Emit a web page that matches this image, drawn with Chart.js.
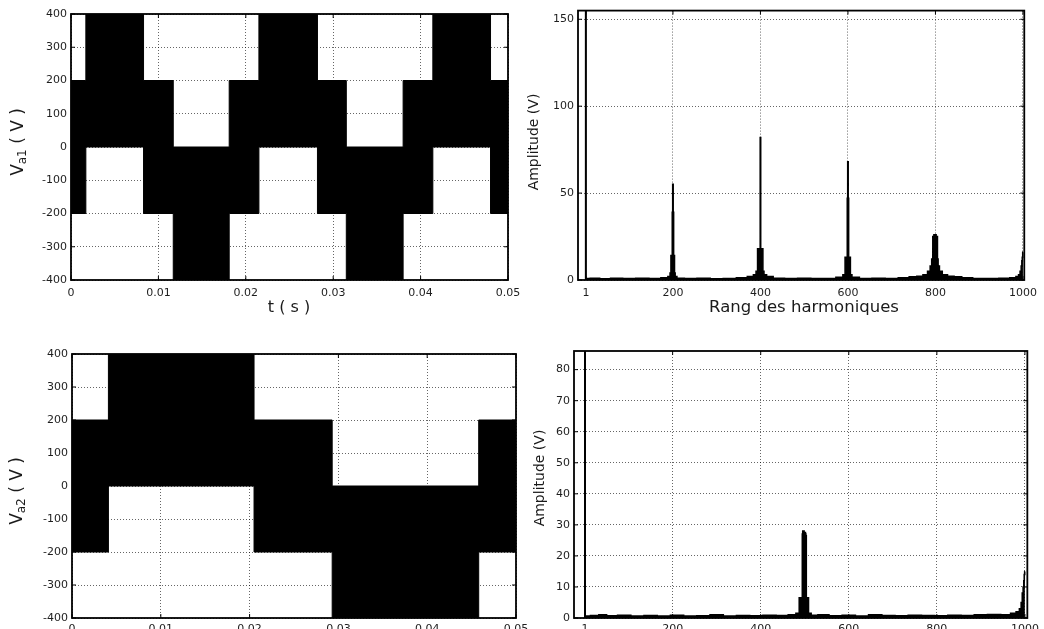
<!DOCTYPE html>
<html>
<head>
<meta charset="utf-8">
<script src="https://cdn.jsdelivr.net/npm/chart.js@4/dist/chart.umd.min.js"></script>
<style>
  html, body { margin: 0; padding: 0; background: #fff; overflow: hidden; }
  #page { position: relative; width: 1044px; height: 629px; overflow: hidden; background: #fff; }
  #sheet { position: absolute; left: 0; top: 0; transform-origin: 0 0; }
  canvas { position: absolute; }
</style>
</head>
<body>
<div id="page"><div id="sheet"></div></div>
<script>
// ---- Va1 : multilevel PWM, each band starts at a time (s) and spans lower..upper (V)
const va1Times = [0, 0.0017, 0.0083, 0.0117, 0.0181, 0.0215, 0.0282, 0.0315, 0.0380, 0.0414, 0.0480, 0.0500];
const va1Upper = [200, 400, 200, 0, 200, 400, 200, 0, 200, 400, 200, 200];
const va1Lower = [-200, 0, -200, -400, -200, 0, -200, -400, -200, 0, -200, -200];

// ---- Va2 : same inverter, lower switching
const va2Times = [0, 0.0041, 0.0205, 0.0293, 0.0458, 0.0500];
const va2Upper = [200, 400, 200, 0, 200, 200];
const va2Lower = [-200, 0, -200, -400, -200, -200];

// ---- harmonic spectrum of Va1 (order, amplitude in V)
const h1Order = [0, 1, 2, 20, 45, 70, 100, 130, 160, 185, 192, 195, 196, 197, 198, 199, 200, 201, 202, 203, 204, 206, 212,
  240, 270, 300, 330, 360, 380, 388, 392, 395, 396, 397, 398, 399, 400, 401, 402, 403, 404, 405, 406, 410, 418,
  440, 470, 500, 530, 560, 585, 592, 595, 596, 597, 598, 599, 600, 601, 602, 603, 604, 605, 606, 612,
  640, 670, 700, 730, 750, 765, 778, 786, 790, 793, 795, 796, 797, 798, 799, 800, 801, 802, 803, 804, 805, 807, 811, 820, 835, 850, 870,
  900, 930, 960, 980, 988, 992, 995, 997, 998, 999, 1000];
const h1Amp = [0, 310, 0.8, 1.0, 0.7, 1.0, 0.8, 1.0, 0.8, 1.2, 2, 4, 14, 14, 14, 39, 55, 39, 14, 14, 4, 2, 1,
  0.8, 1.0, 0.7, 0.9, 1.2, 2, 3, 5, 18, 18, 18, 18, 18, 82, 18, 18, 18, 18, 18, 5, 3, 2,
  1.0, 0.8, 1.0, 0.8, 0.9, 1.5, 3, 13, 13, 13, 13, 47, 68, 47, 13, 13, 13, 13, 3, 1.5,
  0.8, 1.0, 0.9, 1.2, 1.8, 2.2, 3, 5, 8, 12, 25, 25, 26, 25, 26, 25, 26, 25, 25, 25, 12, 8, 5, 3, 2.2, 1.8, 1.2,
  0.9, 0.8, 1.0, 1.2, 2, 3, 5, 8, 11, 13, 16];

// ---- harmonic spectrum of Va2 (order, amplitude in V)
const h2Order = [0, 1, 2, 25, 40, 60, 90, 120, 150, 180, 210, 240, 270, 300, 330, 360, 390, 420, 450, 475, 485, 490, 492, 494,
  495, 496, 497, 498, 499, 500, 501, 502, 503, 504, 506, 508, 509, 520, 540, 570, 600, 630, 660, 690, 720, 750,
  780, 810, 840, 870, 900, 930, 960, 975, 985, 990, 993, 995, 997, 998, 999, 1000];
const h2Amp = [0, 90, 0.6, 0.8, 1.0, 0.7, 0.9, 0.6, 0.8, 0.6, 0.9, 0.6, 0.7, 1.0, 0.6, 0.8, 0.7, 0.9, 0.8, 1.0, 1.5, 6.5, 6.5, 6.5,
  27, 28, 27.5, 28, 27.5, 27, 27.5, 27, 26.5, 6.5, 6.5, 6.5, 1.5, 0.9, 1.0, 0.7, 0.9, 0.6, 1.0, 0.8, 0.7, 0.9,
  0.8, 0.7, 0.9, 0.8, 1.0, 1.1, 1.0, 1.5, 2, 3, 5, 8, 10, 12, 14, 15];

// ---- axis ticks
const timeTicks = [0, 0.01, 0.02, 0.03, 0.04, 0.05];
const timeLabels = ['0', '0.01', '0.02', '0.03', '0.04', '0.05'];
const voltTicks = [-400, -300, -200, -100, 0, 100, 200, 300, 400];
const voltLabels = ['-400', '-300', '-200', '-100', '0', '100', '200', '300', '400'];
const orderTicks = [1, 200, 400, 600, 800, 1000];
const orderLabels = ['1', '200', '400', '600', '800', '1000'];
const amp1Ticks = [0, 50, 100, 150];
const amp1Labels = ['0', '50', '100', '150'];
const amp2Ticks = [0, 10, 20, 30, 40, 50, 60, 70, 80];
const amp2Labels = ['0', '10', '20', '30', '40', '50', '60', '70', '80'];

const S = 1;                          // horizontal scale of the sheet
const FONT = "'DejaVu Sans', 'Liberation Sans', Arial, sans-serif";
const sheet = document.getElementById('sheet');
sheet.style.transform = 'scaleX(' + S + ')';
sheet.style.width = (1044 / S) + 'px';
sheet.style.height = '660px';

// box, inward tick marks and axis captions
function framePlugin(captions, box) {
  return {
    id: 'frame',
    afterDatasetsDraw(chart) {
      const { ctx, chartArea: a, scales } = chart;
      ctx.save();
      ctx.strokeStyle = '#000';
      ctx.lineWidth = 1;
      const L = 4;
      ctx.beginPath();
      scales.x.ticks.forEach(t => {
        const x = scales.x.getPixelForValue(t.value);
        ctx.moveTo(x, a.bottom); ctx.lineTo(x, a.bottom - L);
        ctx.moveTo(x, a.top); ctx.lineTo(x, a.top + L);
      });
      scales.y.ticks.forEach(t => {
        const y = scales.y.getPixelForValue(t.value);
        ctx.moveTo(a.left, y); ctx.lineTo(a.left + L, y);
        ctx.moveTo(a.right, y); ctx.lineTo(a.right - L, y);
      });
      ctx.stroke();
      ctx.lineWidth = 1.8;
      ctx.strokeRect(a.left, a.top, a.right - a.left, a.bottom - a.top);
      ctx.restore();
    },
    afterDraw(chart) {
      const ctx = chart.ctx;
      captions.forEach(c => {
        ctx.save();
        ctx.translate((c.x - box.x) / S, c.y - box.y);
        if (c.rotate) ctx.rotate(-Math.PI / 2);
        ctx.fillStyle = '#1a1a1a';
        ctx.textBaseline = 'middle';
        ctx.textAlign = 'left';
        const widths = c.parts.map(p => { ctx.font = p.size + 'px ' + FONT; return ctx.measureText(p.text).width; });
        let x = -widths.reduce((s, w) => s + w, 0) / 2;
        c.parts.forEach((p, i) => {
          ctx.font = p.size + 'px ' + FONT;
          ctx.fillText(p.text, x, p.dy || 0);
          x += widths[i];
        });
        ctx.restore();
      });
    }
  };
}

const GRID = { color: 'rgba(0,0,0,0.6)', lineWidth: 1, drawTicks: false };
const BORDER = { display: false, dash: [1, 2] };
const TICKFONT = { family: FONT, size: 11 };

function axis(spec, isX, fixed) {
  return {
    type: 'linear',
    min: spec.min, max: spec.max,
    afterBuildTicks: s => { s.ticks = spec.ticks.map(v => ({ value: v })); },
    afterFit: s => { if (isX) s.height = fixed; else s.width = fixed; },
    ticks: {
      callback: (v, i) => spec.labels[i],
      padding: spec.pad, maxRotation: 0, autoSkip: false,
      font: TICKFONT, color: '#1e1e1e'
    },
    grid: GRID,
    border: BORDER
  };
}

function buildPanel(p) {
  const c = document.createElement('canvas');
  const w = Math.round(p.box.w / S);
  c.width = w; c.height = p.box.h;
  c.style.left = (p.box.x / S) + 'px';
  c.style.top = p.box.y + 'px';
  c.style.width = w + 'px';
  c.style.height = p.box.h + 'px';
  sheet.appendChild(c);
  const yW = (p.area.l - p.box.x) / S;
  const xH = p.box.y + p.box.h - p.area.b;
  return new Chart(c, {
    type: 'line',
    data: { datasets: p.datasets },
    options: {
      responsive: false, animation: false, events: [],
      layout: { padding: { left: 0, top: p.area.t - p.box.y, right: w - (p.area.r - p.box.x) / S, bottom: 0 } },
      plugins: { legend: { display: false }, tooltip: { enabled: false } },
      scales: { x: axis(p.x, true, xH), y: axis(p.y, false, yW) }
    },
    plugins: [framePlugin(p.captions, p.box)]
  });
}

function bandSets(times, upper, lower) {
  return [
    { data: times.map((t, i) => ({ x: t, y: upper[i] })), stepped: true, fill: '+1',
      backgroundColor: '#000', borderColor: '#000', borderWidth: 1, pointRadius: 0 },
    { data: times.map((t, i) => ({ x: t, y: lower[i] })), stepped: true, fill: false,
      borderColor: '#000', borderWidth: 1, pointRadius: 0 }
  ];
}

function spectrumSets(order, amp) {
  return [
    { data: order.map((h, i) => ({ x: h, y: amp[i] })), stepped: 'middle', fill: 'origin',
      backgroundColor: '#000', borderColor: '#000', borderWidth: 1.6, pointRadius: 0 }
  ];
}

// top left : Va1 versus time
buildPanel({
  box: { x: 0, y: 0, w: 540, h: 325 },
  area: { l: 71, t: 14, r: 508, b: 280 },
  datasets: bandSets(va1Times, va1Upper, va1Lower),
  x: { min: 0, max: 0.05, ticks: timeTicks, labels: timeLabels, pad: 7 },
  y: { min: -400, max: 400, ticks: voltTicks, labels: voltLabels, pad: 4 },
  captions: [
    { x: 19, y: 142, rotate: true, parts: [{ text: 'V', size: 17 }, { text: 'a1', size: 12, dy: 4 }, { text: ' ( V )', size: 17 }] },
    { x: 289, y: 308, parts: [{ text: 't ( s )', size: 16 }] }
  ]
});

// top right : spectrum of Va1
buildPanel({
  box: { x: 520, y: 0, w: 524, h: 325 },
  area: { l: 578, t: 8, r: 1030, b: 280 },
  datasets: spectrumSets(h1Order, h1Amp),
  x: { min: -17, max: 1003, ticks: orderTicks, labels: orderLabels, pad: 7 },
  y: { min: 0, max: 155, ticks: amp1Ticks, labels: amp1Labels, pad: 4 },
  captions: [
    { x: 534, y: 142, rotate: true, parts: [{ text: 'Amplitude (V)', size: 14 }] },
    { x: 804, y: 308, parts: [{ text: 'Rang des harmoniques', size: 16.5 }] }
  ]
});

// bottom left : Va2 versus time
buildPanel({
  box: { x: 0, y: 330, w: 540, h: 330 },
  area: { l: 72, t: 354, r: 516, b: 618 },
  datasets: bandSets(va2Times, va2Upper, va2Lower),
  x: { min: 0, max: 0.05, ticks: timeTicks, labels: timeLabels, pad: 5 },
  y: { min: -400, max: 400, ticks: voltTicks, labels: voltLabels, pad: 4 },
  captions: [
    { x: 18, y: 491, rotate: true, parts: [{ text: 'V', size: 17 }, { text: 'a2', size: 12, dy: 4 }, { text: ' ( V )', size: 17 }] }
  ]
});

// bottom right : spectrum of Va2
buildPanel({
  box: { x: 520, y: 330, w: 524, h: 330 },
  area: { l: 574, t: 351, r: 1028, b: 618 },
  datasets: spectrumSets(h2Order, h2Amp),
  x: { min: -24, max: 1005.5, ticks: orderTicks, labels: orderLabels, pad: 5 },
  y: { min: 0, max: 86, ticks: amp2Ticks, labels: amp2Labels, pad: 4 },
  captions: [
    { x: 540, y: 478, rotate: true, parts: [{ text: 'Amplitude (V)', size: 14 }] }
  ]
});
</script>
</body>
</html>
